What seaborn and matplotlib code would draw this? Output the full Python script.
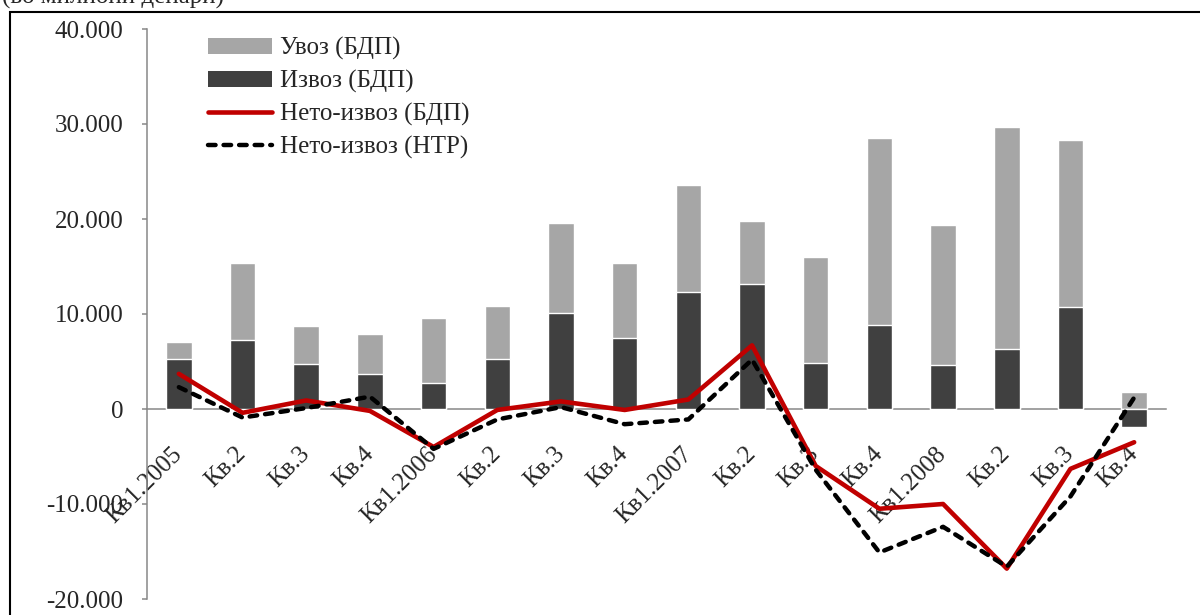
import numpy as np
import matplotlib
matplotlib.use("Agg")
import matplotlib.pyplot as plt
from matplotlib.patches import Patch, Rectangle
from matplotlib.lines import Line2D
from matplotlib.ticker import FuncFormatter, FixedLocator
import seaborn as sns

# quarters (unique keys) and the labels shown under the axis
quarters = ['2005Q1', '2005Q2', '2005Q3', '2005Q4',
            '2006Q1', '2006Q2', '2006Q3', '2006Q4',
            '2007Q1', '2007Q2', '2007Q3', '2007Q4',
            '2008Q1', '2008Q2', '2008Q3', '2008Q4']
labels = ['Кв1.2005', 'Кв.2', 'Кв.3', 'Кв.4',
          'Кв1.2006', 'Кв.2', 'Кв.3', 'Кв.4',
          'Кв1.2007', 'Кв.2', 'Кв.3', 'Кв.4',
          'Кв1.2008', 'Кв.2', 'Кв.3', 'Кв.4']

# million denars
imports_bdp = [7100, 15400, 8700, 7900, 9600, 10800, 19600, 15400,
               23600, 19800, 16000, 28500, 19400, 29700, 28300, 1750]
exports_bdp = [5300, 7300, 4700, 3700, 2700, 5300, 10100, 7500,
               12300, 13200, 4800, 8800, 4600, 6300, 10700, -1850]
net_bdp = [3700, -400, 900, -200, -4000, -100, 800, -100,
           1000, 6700, -6000, -10500, -10000, -16800, -6300, -3500]
net_ntr = [2300, -900, 100, 1300, -4200, -1100, 200, -1600,
           -1100, 5200, -6400, -15100, -12400, -16600, -9200, 1200]

GREY = '#a6a6a6'
DARK = '#404040'
RED = '#c00000'
AXC = '#878787'
FS = 18
DASH = (0, (1.7, 1.8))

sns.set_style('white')
plt.rcParams['font.family'] = ['Liberation Serif', 'DejaVu Serif']

fig = plt.figure(figsize=(12, 6.15), dpi=100)
ax = fig.add_axes([147 / 1200, 16 / 615, 1019 / 1200, 570 / 615])

sns.barplot(x=quarters, y=imports_bdp, color=GREY, saturation=1,
            width=0.4, ax=ax, zorder=2)
sns.barplot(x=quarters, y=exports_bdp, color=DARK, saturation=1,
            width=0.4, ax=ax, zorder=3)
sns.lineplot(x=quarters, y=net_bdp, color=RED, lw=3.3, ax=ax,
             sort=False, zorder=4)
sns.lineplot(x=quarters, y=net_ntr, color='black', lw=3.2, ax=ax,
             sort=False, zorder=5, linestyle=DASH, dash_capstyle='round')

n = len(quarters)
ax.set_xlim(-0.5, n - 0.5)
ax.set_ylim(-20000, 40000)

for s in ['top', 'right']:
    ax.spines[s].set_visible(False)
ax.spines['bottom'].set_position(('data', 0))
ax.spines['bottom'].set_color(AXC)
ax.spines['left'].set_color(AXC)
ax.spines['bottom'].set_linewidth(1.1)
ax.spines['left'].set_linewidth(1.1)
ax.spines['bottom'].set_zorder(1)

ax.xaxis.set_major_locator(FixedLocator(np.arange(n)))
ax.set_xticklabels(labels)
ax.xaxis.set_minor_locator(FixedLocator(np.arange(n + 1) - 0.5))
ax.tick_params(axis='x', which='major', length=0, pad=30, labelsize=FS)
ax.tick_params(axis='x', which='minor', length=4.3, width=1.1,
               color=AXC, direction='out')
for t in ax.get_xticklabels():
    t.set_rotation(45)
    t.set_ha('right')
    t.set_va('center')
    t.set_rotation_mode('anchor')

ax.set_yticks(np.arange(-20000, 40001, 10000))
ax.yaxis.set_major_formatter(
    FuncFormatter(lambda v, p: f'{int(v):,}'.replace(',', '.')))
ax.tick_params(axis='y', length=3.6, width=1.1, color=AXC,
               direction='out', pad=13.5, labelsize=FS, left=True)
ax.set_xlabel('')
ax.set_ylabel('')

handles = [Patch(facecolor=GREY, edgecolor='none'),
           Patch(facecolor=DARK, edgecolor='none'),
           Line2D([], [], color=RED, lw=3.3),
           Line2D([], [], color='black', lw=3.2, linestyle=DASH,
                  dash_capstyle='round')]
names = ['Увоз (БДП)', 'Извоз (БДП)', 'Нето-извоз (БДП)', 'Нето-извоз (НТР)']
ax.legend(handles, names, loc='upper left',
          bbox_to_anchor=(208 / 1200, 1 - 37 / 615),
          bbox_transform=fig.transFigure, frameon=False, fontsize=FS,
          borderpad=0, borderaxespad=0, handlelength=2.55, handleheight=0.65,
          handletextpad=0.35, labelspacing=0.4)

fig.add_artist(Rectangle((10 / 1200, -0.1), 2, (615 - 12) / 615 + 0.1,
                         transform=fig.transFigure, fill=False,
                         lw=1.5, ec='black'))
fig.text(2 / 1200, 1 + 3 / 615, '(во милиони денари)', ha='left',
         va='center', fontsize=FS)

fig.savefig('out.png', dpi=100)
